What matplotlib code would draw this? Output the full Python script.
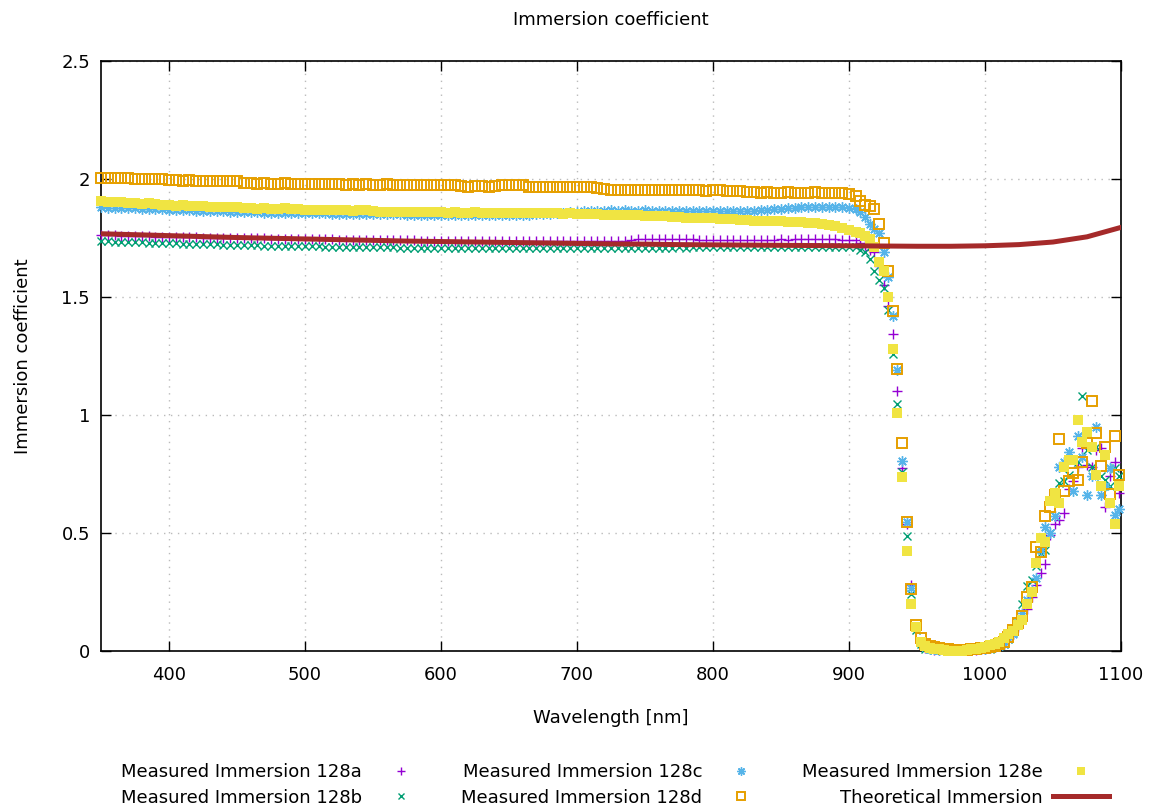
import numpy as np
import matplotlib
matplotlib.use("Agg")
import matplotlib.pyplot as plt
from matplotlib.lines import Line2D

# sampling grid of the spectrometer: coarse in the flat part, finer at the edge
FLAT_WL = np.arange(350, 901, 5)
TAIL_WL = np.round(np.arange(905, 1100, 3.4), 1)
WAVELENGTHS = np.concatenate([FLAT_WL, TAIL_WL])

IMM_128A = [
    1.762, 1.761, 1.761, 1.760, 1.759, 1.758, 1.758, 1.757, 1.756, 1.756, 1.755,
    1.754, 1.754, 1.753, 1.753, 1.752, 1.752, 1.751, 1.751, 1.750, 1.750,
    1.749, 1.749, 1.748, 1.748, 1.747, 1.747, 1.746, 1.746, 1.745, 1.745,
    1.745, 1.744, 1.744, 1.744, 1.743, 1.743, 1.743, 1.742, 1.742, 1.742,
    1.741, 1.741, 1.741, 1.740, 1.740, 1.740, 1.739, 1.739, 1.739, 1.739,
    1.738, 1.738, 1.738, 1.737, 1.737, 1.737, 1.736, 1.736, 1.736, 1.736,
    1.736, 1.736, 1.737, 1.737, 1.737, 1.737, 1.737, 1.738, 1.738, 1.738,
    1.738, 1.738, 1.739, 1.739, 1.739, 1.739, 1.739, 1.740,
    1.746, 1.747, 1.746, 1.747, 1.746, 1.747, 1.746, 1.746, 1.744,
    1.742, 1.742, 1.743, 1.742, 1.742, 1.743, 1.742, 1.743, 1.742, 1.742,
    1.743, 1.743, 1.744, 1.743, 1.744, 1.744, 1.745, 1.745, 1.745, 1.744,
    1.744, 1.743, 1.742,
    # drop
    1.74, 1.73, 1.72, 1.70, 1.69, 1.63, 1.55, 1.46, 1.343, 1.10, 0.775, 0.54,
    0.28, 0.10, 0.04, 0.012,
    0.008, 0.006, 0.005, 0.004, 0.004, 0.003, 0.003, 0.004, 0.004, 0.005,
    0.006, 0.008, 0.010,
    0.012, 0.015, 0.02, 0.03, 0.05, 0.07, 0.10, 0.14, 0.18, 0.23,
    0.28, 0.33, 0.37, 0.49, 0.54, 0.555, 0.585, 0.685, 0.72, 0.78,
    0.86, 0.79, 0.78, 0.85, 0.86, 0.61, 0.74, 0.80, 0.67,
]

IMM_128B = [
    1.737, 1.736, 1.735, 1.734, 1.733, 1.732, 1.731, 1.730, 1.730, 1.729, 1.728,
    1.727, 1.726, 1.726, 1.725, 1.724, 1.723, 1.723, 1.722, 1.721, 1.721,
    1.720, 1.719, 1.719, 1.718, 1.718, 1.717, 1.716, 1.716, 1.715, 1.715,
    1.714, 1.714, 1.713, 1.713, 1.712, 1.712, 1.712, 1.711, 1.711, 1.711,
    1.710, 1.710, 1.710, 1.709, 1.709, 1.709, 1.709, 1.708, 1.708, 1.708,
    1.708, 1.707, 1.707, 1.707, 1.707, 1.707, 1.706, 1.706,
    1.706, 1.706, 1.707, 1.706, 1.706, 1.707, 1.706, 1.706, 1.707, 1.707,
    1.706, 1.707, 1.707, 1.707, 1.708, 1.707, 1.708, 1.708, 1.708, 1.708,
    1.709, 1.708, 1.709, 1.709, 1.709, 1.709, 1.710, 1.709, 1.710, 1.710,
    1.710, 1.710,
    1.710, 1.711, 1.711, 1.711, 1.711, 1.712, 1.712, 1.712, 1.712, 1.712,
    1.713, 1.713, 1.713, 1.713, 1.713, 1.713, 1.712, 1.712, 1.712, 1.711,
    # drop
    1.71, 1.70, 1.69, 1.66, 1.61, 1.57, 1.54, 1.445, 1.26, 1.047, 0.76, 0.487,
    0.24, 0.09, 0.03, 0.01,
    0.008, 0.006, 0.005, 0.004, 0.003, 0.003, 0.003, 0.003, 0.004, 0.005,
    0.006, 0.007, 0.009,
    0.01, 0.015, 0.02, 0.03, 0.05, 0.08, 0.12, 0.20, 0.275, 0.30,
    0.36, 0.415, 0.43, 0.50, 0.57, 0.71, 0.72, 0.745, 0.68, 0.80,
    1.08, 0.85, 0.78, 0.865, 0.74, 0.725, 0.70, 0.775, 0.74,
]

IMM_128C = [
    1.880, 1.879, 1.878, 1.877, 1.876, 1.876, 1.875, 1.874, 1.873, 1.872,
    1.870, 1.869, 1.868, 1.867, 1.866, 1.865, 1.864, 1.864, 1.863, 1.862, 1.861,
    1.860, 1.859, 1.859, 1.858, 1.858, 1.857, 1.857, 1.856, 1.856, 1.855,
    1.855, 1.854, 1.854, 1.853, 1.853, 1.852, 1.852, 1.852, 1.851, 1.851,
    1.851, 1.850, 1.850, 1.850, 1.849, 1.849, 1.849, 1.848, 1.848, 1.848,
    1.848, 1.847, 1.847, 1.847, 1.847, 1.846, 1.846, 1.846,
    1.846, 1.846, 1.847, 1.848, 1.849, 1.850, 1.852, 1.853, 1.855, 1.857,
    1.859, 1.861, 1.863, 1.865,
    1.866, 1.866, 1.867, 1.866, 1.867, 1.866, 1.866, 1.867, 1.866, 1.865,
    1.866, 1.866, 1.865, 1.866, 1.865, 1.866, 1.865, 1.864, 1.865, 1.865,
    1.864, 1.865, 1.866, 1.866,
    1.868, 1.870, 1.872, 1.874, 1.876, 1.878, 1.880, 1.881, 1.882, 1.883,
    1.883, 1.882, 1.881, 1.879,
    # drop
    1.875, 1.86, 1.84, 1.81, 1.79, 1.77, 1.69, 1.585, 1.42, 1.19, 0.805, 0.547,
    0.267, 0.10, 0.04, 0.015,
    0.01, 0.008, 0.006, 0.005, 0.004, 0.004, 0.004, 0.004, 0.005, 0.006,
    0.007, 0.008, 0.01,
    0.012, 0.015, 0.02, 0.03, 0.05, 0.07, 0.11, 0.16, 0.215, 0.26,
    0.31, 0.43, 0.525, 0.50, 0.57, 0.78, 0.80, 0.845, 0.68, 0.91,
    0.82, 0.66, 0.74, 0.95, 0.66, 0.70, 0.775, 0.575, 0.60,
]

IMM_128D = [
    2.005, 2.006, 2.004, 2.005, 2.003,
    2.000, 2.001, 1.999, 2.000, 1.998, 1.997,
    1.994, 1.993, 1.994, 1.992, 1.993, 1.992, 1.991, 1.993, 1.992, 1.990,
    1.982, 1.981, 1.980, 1.981, 1.979, 1.980, 1.981, 1.979, 1.978, 1.980,
    1.979, 1.978, 1.979, 1.978,
    1.977, 1.976, 1.977, 1.976, 1.977, 1.975, 1.976, 1.977, 1.976, 1.975,
    1.975, 1.974, 1.976, 1.975, 1.974, 1.975, 1.976, 1.974,
    1.969, 1.968, 1.970, 1.969, 1.968, 1.972,
    1.975, 1.976, 1.974, 1.973,
    1.967, 1.968, 1.966, 1.967, 1.968, 1.966, 1.967, 1.966, 1.968, 1.967, 1.962,
    1.958, 1.954, 1.953, 1.952, 1.954, 1.953, 1.952, 1.953, 1.954, 1.952,
    1.953, 1.952, 1.953, 1.954, 1.952, 1.951, 1.953, 1.952, 1.950, 1.951, 1.950,
    1.945, 1.943, 1.942, 1.943, 1.941, 1.942, 1.943, 1.942, 1.941, 1.942,
    1.943, 1.941, 1.942, 1.941, 1.940, 1.936,
    # drop
    1.93, 1.905, 1.89, 1.885, 1.875, 1.81, 1.73, 1.61, 1.44, 1.195, 0.88, 0.547,
    0.263, 0.11, 0.055, 0.03,
    0.02, 0.015, 0.012, 0.01, 0.008, 0.006, 0.005, 0.005, 0.006, 0.008,
    0.01, 0.012, 0.014,
    0.016, 0.02, 0.03, 0.04, 0.06, 0.09, 0.12, 0.15, 0.23, 0.27,
    0.44, 0.42, 0.57, 0.61, 0.66, 0.90, 0.68, 0.72, 0.755, 0.725,
    0.80, 0.88, 1.06, 0.925, 0.785, 0.865, 0.665, 0.91, 0.745,
]

IMM_128E = [
    1.905, 1.904, 1.903, 1.904,
    1.898, 1.897, 1.896, 1.897, 1.895,
    1.889, 1.888, 1.887, 1.888, 1.886, 1.887, 1.885,
    1.883, 1.882, 1.883, 1.881, 1.880,
    1.876, 1.877, 1.875, 1.876, 1.875, 1.874, 1.876, 1.875, 1.873,
    1.869, 1.868, 1.869, 1.867, 1.868, 1.867, 1.868, 1.866, 1.867, 1.868, 1.866,
    1.862, 1.861, 1.862, 1.860, 1.861, 1.860, 1.861, 1.859, 1.860,
    1.859, 1.858, 1.859, 1.857, 1.858, 1.859, 1.857, 1.858, 1.857,
    1.857, 1.856, 1.857, 1.855, 1.856, 1.856, 1.855,
    1.855, 1.854, 1.853, 1.854, 1.853, 1.852, 1.851,
    1.850, 1.849, 1.848, 1.849, 1.847, 1.846, 1.847, 1.845, 1.844, 1.843,
    1.842, 1.841, 1.840,
    1.836, 1.835, 1.834, 1.834, 1.833, 1.832, 1.831, 1.830, 1.828,
    1.826, 1.824, 1.823, 1.822, 1.821, 1.820, 1.819, 1.818, 1.817,
    1.815, 1.812, 1.808, 1.805, 1.800, 1.793, 1.783,
    # drop
    1.775, 1.77, 1.76, 1.745, 1.71, 1.65, 1.61, 1.50, 1.28, 1.01, 0.737, 0.424,
    0.20, 0.10, 0.04, 0.02,
    0.012, 0.01, 0.008, 0.005, 0.002, 0.0, 0.0, 0.002, 0.005, 0.008,
    0.01, 0.012, 0.015,
    0.025, 0.03, 0.04, 0.055, 0.07, 0.085, 0.11, 0.13, 0.20, 0.25,
    0.373, 0.48, 0.46, 0.635, 0.67, 0.627, 0.78, 0.81, 0.81, 0.98,
    0.885, 0.93, 0.865, 0.745, 0.70, 0.83, 0.627, 0.54, 0.70,
]

THEORY_WL = np.arange(350, 1101, 25)
THEORY = [
    1.768, 1.764, 1.760, 1.756, 1.752, 1.749, 1.746, 1.743, 1.740, 1.737,
    1.735, 1.733, 1.731, 1.729, 1.727, 1.725, 1.724, 1.722, 1.721, 1.720,
    1.719, 1.718, 1.717, 1.716, 1.715, 1.715, 1.717, 1.722, 1.733, 1.755,
    1.795,
]

LABELS = ["Measured Immersion 128a", "Measured Immersion 128b",
          "Measured Immersion 128c", "Measured Immersion 128d",
          "Measured Immersion 128e", "Theoretical Immersion"]

for s in (IMM_128A, IMM_128B, IMM_128C, IMM_128D, IMM_128E):
    assert len(s) == len(WAVELENGTHS), len(s)

plt.rcParams['font.family'] = ['DejaVu Sans']
plt.rcParams['font.size'] = 13

W, H = 1158, 809
fig = plt.figure(figsize=(W / 100, H / 100), dpi=100)
ax = fig.add_axes([101 / W, 1 - 651 / H, (1121 - 101) / W, (651 - 61) / H])

styles = [
    dict(marker='+', color='#9400d3', ms=7, mew=1.0, mfc='none'),
    dict(marker='x', color='#009e73', ms=5.8, mew=1.0, mfc='none'),
    dict(marker=(8, 2, 0), color='#56b4e9', ms=7.5, mew=1.0, mfc='none'),
    dict(marker='s', color='#e69f00', ms=6.6, mew=1.4, mfc='none'),
    dict(marker='s', color='#f0e442', ms=7.0, mew=0, mfc='#f0e442'),
]
series = [IMM_128A, IMM_128B, IMM_128C, IMM_128D, IMM_128E]

handles = []
for vals, st, lab in zip(series, styles, LABELS):
    ax.plot(WAVELENGTHS, vals, linestyle='none', marker=st['marker'],
            ms=st['ms'], mew=st['mew'], mec=st['color'], mfc=st['mfc'],
            clip_on=False, zorder=3)
    handles.append(Line2D([], [], linestyle='none', marker=st['marker'],
                          ms=st['ms'] * 0.8, mew=st['mew'], mec=st['color'],
                          mfc=st['mfc'], label=lab))

ax.plot(THEORY_WL, THEORY, color='#a52a2a', lw=3.6, zorder=4)
handles.append(Line2D([], [], color='#a52a2a', lw=3.6, label=LABELS[5]))

ax.set_xlim(350, 1100)
ax.set_ylim(0, 2.5)
ax.set_xticks([400, 500, 600, 700, 800, 900, 1000, 1100])
ax.set_yticks([0, 0.5, 1, 1.5, 2, 2.5])
ax.set_yticklabels(['0', '0.5', '1', '1.5', '2', '2.5'])
ax.tick_params(direction='in', length=7.5, width=1, top=True, right=True,
               labelsize=13)
ax.tick_params(axis='x', pad=11)
ax.tick_params(axis='y', pad=8)
for sp in ax.spines.values():
    sp.set_linewidth(1.2)

ax.grid(True, color='#bbbbbb', linestyle=(0, (1, 4)), linewidth=1)
ax.set_axisbelow(True)

ax.set_xlabel('Wavelength [nm]', fontsize=13)
ax.xaxis.set_label_coords(0.5, -0.098)
ax.set_ylabel('Immersion coefficient', fontsize=13)
ax.yaxis.set_label_coords(-0.068, 0.5)

fig.text(611 / W, 1 - 20 / H, 'Immersion coefficient', ha='center',
         va='center', fontsize=13)

fig.legend(handles=handles, loc='center', ncol=3, frameon=False,
           markerfirst=False, bbox_to_anchor=(615 / W, 1 - 785 / H),
           bbox_transform=fig.transFigure, fontsize=13, handlelength=3.1,
           handletextpad=0.6, columnspacing=1.8, labelspacing=0.42,
           borderpad=0)

fig.savefig('out.png', dpi=100)
